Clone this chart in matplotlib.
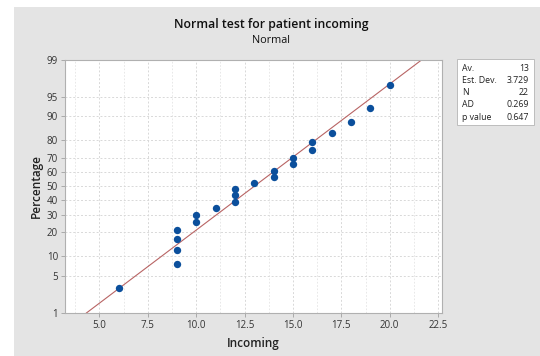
import numpy as np
import matplotlib
matplotlib.use("Agg")
import matplotlib.pyplot as plt
from matplotlib.patches import Rectangle
from statistics import NormalDist

plt.rcParams['font.family'] = ['Open Sans', 'DejaVu Sans']

# data
incoming = [6, 9, 9, 9, 9, 10, 10, 11, 12, 12, 12, 13, 14, 14, 15, 15, 16, 16, 17, 18, 19, 20]
y_ticks = [1, 5, 10, 20, 30, 40, 50, 60, 70, 80, 90, 95, 99]
x_ticks = [5.0, 7.5, 10.0, 12.5, 15.0, 17.5, 20.0, 22.5]
stat_names = ["Av.", "Est. Dev.", "N", "AD", "p value"]
stat_values = ["13", "3.729", "22", "0.269", "0.647"]

x = np.sort(np.array(incoming, dtype=float))
n = len(x)
mean = x.mean()
sd = x.std(ddof=1)
pct = (np.arange(1, n + 1) - 0.3) / (n + 0.4) * 100

nd = NormalDist()
_ppf = np.vectorize(lambda p: nd.inv_cdf(min(max(p / 100.0, 1e-9), 1 - 1e-9)), otypes=[float])
_cdf = np.vectorize(lambda z: nd.cdf(z) * 100.0, otypes=[float])

def fwd(p):
    return _ppf(np.asarray(p, dtype=float))

def inv(z):
    return _cdf(np.asarray(z, dtype=float))

fig = plt.figure(figsize=(5.40, 3.56), dpi=100)
fig.patch.set_facecolor('white')
fig.patches.append(Rectangle((14 / 540, 0), 1, 1 - 7 / 356, transform=fig.transFigure,
                             facecolor='#e4e4e4', edgecolor='none', zorder=-10))

ax = fig.add_axes([65 / 540, 1 - 313 / 356, (442 - 65) / 540, (313 - 59.5) / 356])
ax.set_facecolor('white')
ax.set_yscale('function', functions=(fwd, inv))
ax.set_ylim(1, 99)
ax.set_xlim(3.22, 22.7)
ax.set_yticks(y_ticks)
ax.set_yticklabels([str(v) for v in y_ticks])
ax.set_xticks(x_ticks)
ax.set_xticklabels([f"{v:.1f}" for v in x_ticks])
ax.set_xticks(np.arange(3.75, 22.8, 2.5), minor=True)
ax.yaxis.set_minor_locator(matplotlib.ticker.NullLocator())

ax.grid(True, which='major', axis='both', color='#d8d8d8', linestyle=(0, (2, 2)), linewidth=0.7)
ax.grid(True, which='minor', axis='x', color='#e4e4e4', linestyle=(0, (2, 2)), linewidth=0.6)
ax.tick_params(axis='both', which='major', labelsize=7, colors='#a0a0a0', labelcolor='#333333',
               length=3, width=0.6, pad=2)
ax.tick_params(axis='x', which='minor', length=0)
for s in ax.spines.values():
    s.set_color('#b0b0b0')
    s.set_linewidth(0.8)

# fitted line
p_lo, p_hi = 1, 99
x_lo = nd.inv_cdf(p_lo / 100) * sd + mean
x_hi = nd.inv_cdf(p_hi / 100) * sd + mean
ax.plot([x_lo, x_hi], [p_lo, p_hi], color='#b86464', linewidth=0.8, zorder=2)
ax.plot(x, pct, 'o', color='#0b4f9c', markersize=5.3, zorder=3, markeredgewidth=0)

ax.set_xlabel("Incoming", fontsize=8.5, color='#222222', labelpad=4, fontweight='semibold')
ax.set_ylabel("Percentage", fontsize=8.5, color='#222222', labelpad=2.5, fontweight='semibold')

fig.text(0.502, 0.93, "Normal test for patient incoming", ha='center', va='center',
         fontsize=8.8, color='#111111', fontweight='semibold')
fig.text(0.502, 0.885, "Normal", ha='center', va='center', fontsize=7.8, color='#111111')

# stats box
bx0, bx1 = 457 / 540, 534 / 540
by1, by0 = 1 - 59 / 356, 1 - 125 / 356
fig.patches.append(Rectangle((bx0, by0), bx1 - bx0, by1 - by0, transform=fig.transFigure,
                             facecolor='white', edgecolor='#bdbdbd', linewidth=0.7, zorder=5))
row_h = (by1 - by0) / 5.4
for i, (nm, vl) in enumerate(zip(stat_names, stat_values)):
    yy = by1 - row_h * (i + 0.75)
    fig.text(bx0 + 5 / 540, yy, nm, ha='left', va='center', fontsize=6.3, color='#222222', zorder=6)
    fig.text(bx1 - 5 / 540, yy, vl, ha='right', va='center', fontsize=6.3, color='#222222', zorder=6)

fig.savefig("out.png", dpi=100, facecolor=fig.get_facecolor())
